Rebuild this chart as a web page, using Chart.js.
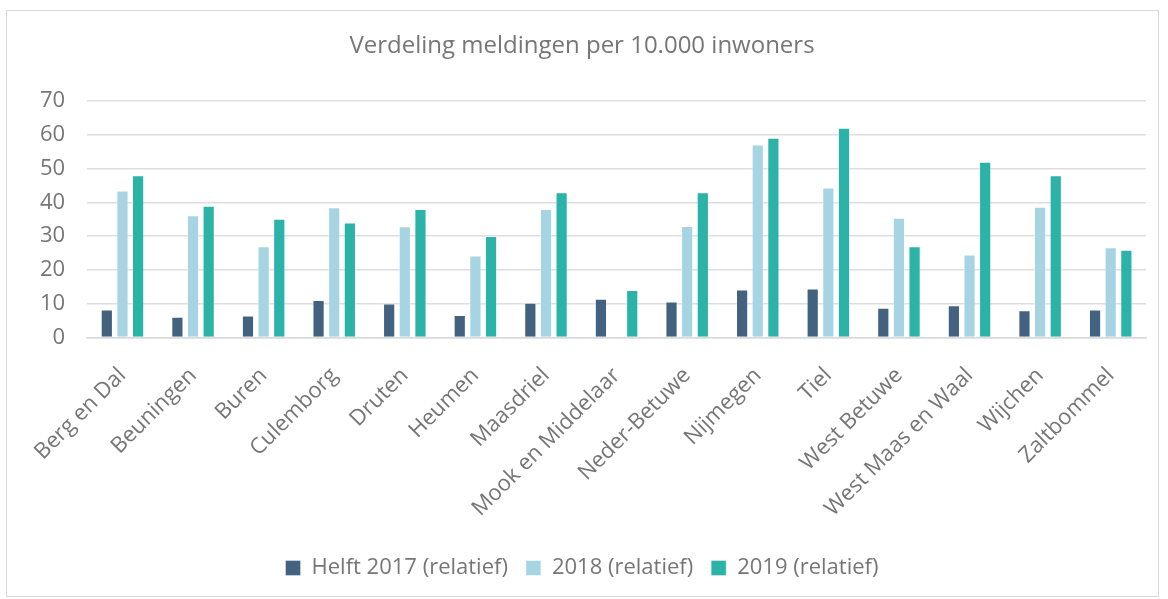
<!DOCTYPE html>
<html>
<head>
<meta charset="utf-8">
<script src="https://cdn.jsdelivr.net/npm/chart.js@4"></script>
<style>
  html, body { margin: 0; padding: 0; background: #fff; }
  #wrap { width: 1168px; height: 599px; }
</style>
</head>
<body>
<div id="wrap"><canvas id="myChart" width="1168" height="599"></canvas></div>
<script>
var gemeenten = ['Berg en Dal', 'Beuningen', 'Buren', 'Culemborg', 'Druten', 'Heumen', 'Maasdriel',
    'Mook en Middelaar', 'Neder-Betuwe', 'Nijmegen', 'Tiel', 'West Betuwe', 'West Maas en Waal',
    'Wijchen', 'Zaltbommel'];
var helft2017 = [8.3, 6.2, 6.5, 11.1, 10.1, 6.7, 10.3, 11.5, 10.7, 14.2, 14.5, 8.8, 9.6, 8.1, 8.3];
var jaar2018 = [43.5, 36.2, 27, 38.5, 32.9, 24.3, 38, null, 33, 57.1, 44.4, 35.4, 24.6, 38.7, 26.7];
var jaar2019 = [48, 39, 35.1, 34, 38, 30, 43, 14.1, 43, 59.1, 62, 27, 52, 48, 26];
var yTicks = [0, 10, 20, 30, 40, 50, 60, 70];

var textColor = '#767676';
var fontFam = '"Open Sans", "Noto Sans", sans-serif';

// thin frame around the chart
var framePlugin = {
    id: 'frame',
    beforeDraw: function (c) {
        var ctx = c.ctx;
        ctx.save();
        ctx.fillStyle = '#fff';
        ctx.fillRect(0, 0, c.width, c.height);
        ctx.strokeStyle = '#d9d9d9';
        ctx.lineWidth = 1;
        ctx.strokeRect(6.5, 10.5, 1152, 586);
        ctx.restore();
    }
};

var ctx = document.getElementById('myChart').getContext('2d');
var chart = new Chart(ctx, {
    type: 'bar',
    data: {
        labels: gemeenten,
        datasets: [{
            label: 'Helft 2017 (relatief)',
            backgroundColor: '#42627f',
            borderColor: 'rgba(255,255,255,0.35)',
            borderWidth: 1,
            data: helft2017
        }, {
            label: '2018 (relatief)',
            backgroundColor: '#a7d4e3',
            borderColor: 'rgba(255,255,255,0.5)',
            borderWidth: 1,
            data: jaar2018
        }, {
            label: '2019 (relatief)',
            backgroundColor: '#2bb3a7',
            borderColor: 'rgba(255,255,255,0.35)',
            borderWidth: 1,
            data: jaar2019
        }]
    },
    options: {
        responsive: false,
        animation: false,
        categoryPercentage: 0.665,
        barPercentage: 0.78,
        layout: { padding: { left: 18, right: 22, top: 10, bottom: 10 } },
        plugins: {
            title: {
                display: true,
                text: 'Verdeling meldingen per 10.000 inwoners',
                color: textColor,
                font: { family: fontFam, size: 24, weight: 'normal' },
                padding: { top: 22, bottom: 40 }
            },
            legend: {
                position: 'bottom',
                labels: {
                    color: textColor,
                    font: { family: fontFam, size: 22 },
                    boxWidth: 15,
                    boxHeight: 15,
                    padding: 18
                }
            },
            tooltip: { enabled: false }
        },
        scales: {
            x: {
                grid: { display: false },
                border: { color: '#d9d9d9', width: 1.5 },
                ticks: {
                    color: textColor,
                    font: { family: fontFam, size: 22 },
                    minRotation: 45,
                    maxRotation: 45,
                    padding: 17
                }
            },
            y: {
                min: 0,
                max: 70,
                afterBuildTicks: function (s) {
                    s.ticks = yTicks.map(function (v) { return { value: v }; });
                },
                grid: { color: '#dedede', lineWidth: 1.5, drawTicks: false },
                border: { display: false },
                ticks: {
                    color: textColor,
                    font: { family: fontFam, size: 22 },
                    padding: 22
                }
            }
        }
    },
    plugins: [framePlugin]
});
</script>
</body>
</html>
